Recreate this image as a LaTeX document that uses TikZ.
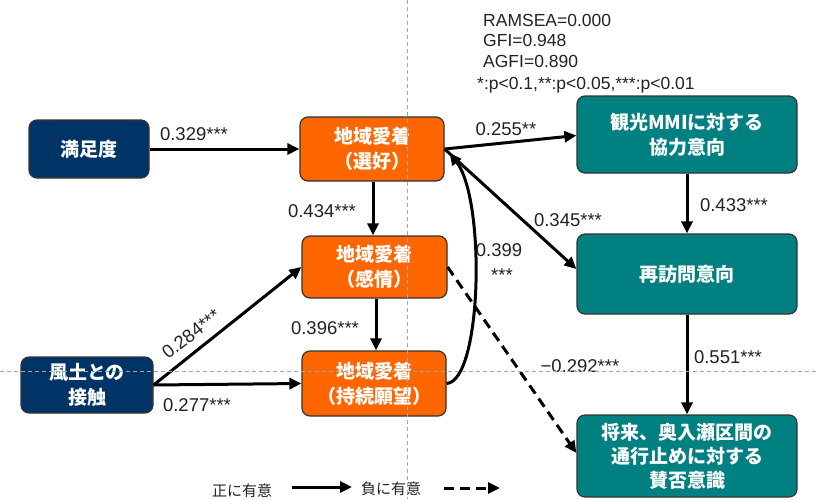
\documentclass[tikz,border=0pt]{standalone}
\usepackage{fontspec}
\setmainfont{Liberation Sans}
\newfontfamily\jp{Noto Sans CJK JP}
\usetikzlibrary{arrows.meta,calc}
\definecolor{navy}{HTML}{003366}
\definecolor{orng}{HTML}{FF6600}
\definecolor{teal2}{HTML}{008080}
\definecolor{txt}{HTML}{222222}
\begin{document}
\begin{tikzpicture}[x=1pt,y=-1pt,
  box/.style={draw=black!80,line width=1.2pt,rounded corners=8pt,text=white,align=center,
    font=\jp\bfseries\fontsize{19}{25}\selectfont,inner sep=0pt},
  navybox/.style={box,fill=navy},
  orbox/.style={box,fill=orng},
  tealbox/.style={box,fill=teal2},
  arr/.style={line width=3pt,-{Triangle[length=12pt,width=11pt]}},
  darr/.style={arr,dash pattern=on 10pt off 6pt},
  lab/.style={font=\fontsize{18.5}{21}\selectfont,text=txt,inner sep=1pt},
  fit/.style={font=\fontsize{17.5}{20}\selectfont,text=txt,inner sep=1pt,anchor=west},
  guide/.style={gray!70,line width=0.8pt,dash pattern=on 4pt off 3pt}]
\useasboundingbox (0,0) rectangle (816,499);
\node[navybox,minimum width=120pt,minimum height=58pt] (manzoku) at (89,149) {満足度};
\node[orbox,minimum width=144pt,minimum height=64pt] (sen) at (372,149) {地域愛着\\（選好）};
\node[orbox,minimum width=145pt,minimum height=62pt] (kan) at (374.5,267) {地域愛着\\（感情）};
\node[orbox,minimum width=144pt,minimum height=65pt] (jiz) at (374,383.5) {地域愛着\\（持続願望）};
\node[navybox,minimum width=132pt,minimum height=56pt] (fudo) at (87,385) {風土との\\接触};
\node[tealbox,minimum width=220pt,minimum height=77pt] (mmi) at (687,134.5) {観光MMIに対する\\協力意向};
\node[tealbox,minimum width=220pt,minimum height=80pt] (sai) at (687,274) {再訪問意向};
\node[tealbox,minimum width=220pt,minimum height=82pt,font=\jp\bfseries\fontsize{19}{24}\selectfont] (sho) at (687,456) {将来、奥入瀬区間の\\通行止めに対する\\賛否意識};
% arrows
\draw[arr] (manzoku.east) -- (sen.west);
\draw[arr] (sen.south -| 373,0) -- (kan.north -| 373,0);
\draw[arr] (kan.south -| 376,0) -- (jiz.north -| 376,0);
\draw[arr] (fudo.east) -- (kan.west);
\draw[arr] (fudo.east) -- (jiz.west);
\draw[arr] (sen.east) -- ($(mmi.west)+(0,1)$);
\draw[arr] (sen.east) -- ($(sai.west)+(0,-5)$);
\draw[arr] (jiz.east) .. controls (482,381) and (486,200) .. ($(sen.east)+(5,4)$);
\draw[arr] (mmi.south) -- (sai.north);
\draw[arr] (sai.south) -- (sho.north);
\draw[darr] (kan.east) -- ($(sho.west)+(0,-3)$);
% labels
\node[lab] (l1) at (194,134) {0.329***};
\node[lab] (l2) at (322,211) {0.434***};
\node[lab] (l3) at (325,328) {0.396***};
\node[lab,rotate=37.7] (l4) at (191,334) {0.284***};
\node[lab] (l5) at (197,405) {0.277***};
\node[lab] (l6) at (506,129) {0.255**};
\node[lab] (l7) at (568,220) {0.345***};
\node[lab] (l8) at (734,205) {0.433***};
\node[lab] (l9) at (728,357) {0.551***};
\node[lab] (l10) at (580,366) {−0.292***};
\node[lab] (l11) at (499,250) {0.399};
\node[lab] (l12) at (502,275) {***};
% fit indices
\node[fit] (f1) at (482,20) {RAMSEA=0.000};
\node[fit] (f2) at (482,40) {GFI=0.948};
\node[fit] (f3) at (482,61) {AGFI=0.890};
\node[fit] (f4) at (476,85) {*:p<0.1,**:p<0.05,***:p<0.01};
% legend
\node[font=\jp\fontsize{15}{17}\selectfont,text=txt] (lg1) at (242,491) {正に有意};
\node[font=\jp\fontsize{15}{17}\selectfont,text=txt] (lg2) at (391,489) {負に有意};
\coordinate (a1) at (292,487);
\coordinate (a2) at (352,487);
\coordinate (b1) at (444,488);
\coordinate (b2) at (500,488);
\draw[arr] (a1) -- (a2);
\draw[darr] (b1) -- (b2);
% guide lines
\coordinate (g1) at (407,0);
\coordinate (g2) at (407,499);
\coordinate (g3) at (0,371);
\coordinate (g4) at (816,371);
\draw[guide] (g1) -- (g2);
\draw[guide] (g3) -- (g4);
\end{tikzpicture}
\end{document}
